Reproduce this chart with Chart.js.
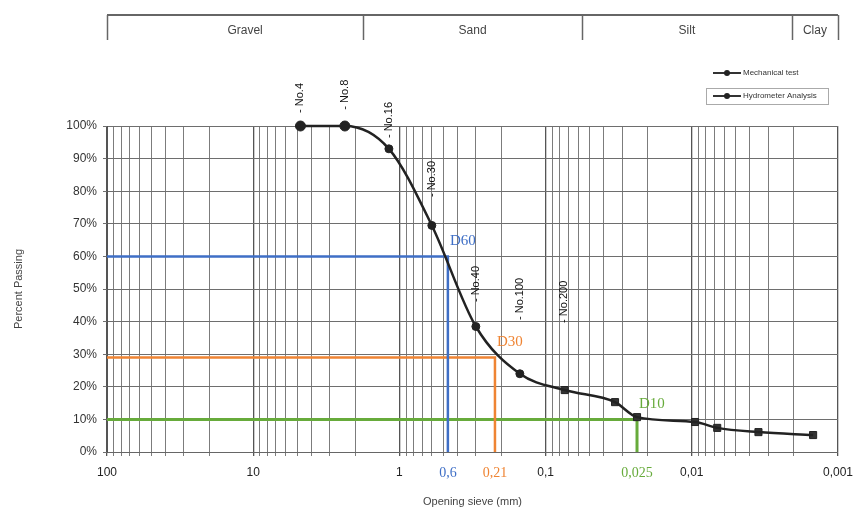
<!DOCTYPE html>
<html>
<head>
<meta charset="utf-8">
<title>Grain size distribution</title>
<script src="https://cdn.jsdelivr.net/npm/chart.js@4.4.0/dist/chart.umd.min.js"></script>
<style>
  html, body { margin: 0; padding: 0; background: #fff; }
</style>
</head>
<body>
<canvas id="gradChart" width="858" height="510"></canvas>
<script>
// sieve analysis (opening in mm -> percent passing)
var mechSize = [4.75, 2.36, 1.18, 0.6, 0.3, 0.15];
var mechPass = [100, 100, 93, 69.5, 38.5, 24];

// hydrometer analysis
var hydroSize = [0.074, 0.0335, 0.0237, 0.0095, 0.0067, 0.0035, 0.00148];
var hydroPass = [19, 15.3, 10.7, 9.2, 7.4, 6.1, 5.2];

// sieve numbers written above the curve
var sieveNames = ['- No.4', '- No.8', '- No.16', '- No.30', '- No.40', '- No.100', '- No.200'];
var sieveSize = [4.75, 2.36, 1.18, 0.6, 0.3, 0.15, 0.075];

// characteristic diameters
var dNames = ['D60', 'D30', 'D10'];
var dPercent = [60, 29, 10];
var dSize = [0.466, 0.222, 0.0237];
var dTickText = ['0,6', '0,21', '0,025'];

// soil classes along the top
var classNames = ['Gravel', 'Sand', 'Silt', 'Clay'];
var classEdges = [100, 1.77, 0.0564, 0.00207, 0.001];

// x axis labels (decades)
var decadeTicks = [100, 10, 1, 0.1, 0.01, 0.001];
var decadeLabels = ['100', '10', '1', '0,1', '0,01', '0,001'];

var dColors = ['#3f6fc6', '#ef8433', '#67ab3b'];
var sieveTagLevel = [104, 105, 96.3, 78.2, 46, 40.5, 39.6]; // where the rotated labels start (% units)

function pts(xs, ys) {
  var out = [];
  for (var i = 0; i < xs.length; i++) out.push({ x: xs[i], y: ys[i] });
  return out;
}

// small line+marker icon for the legend
function legendIcon() {
  var c = document.createElement('canvas');
  c.width = 30; c.height = 10;
  var g = c.getContext('2d');
  g.strokeStyle = '#333'; g.lineWidth = 2;
  g.beginPath(); g.moveTo(1, 5); g.lineTo(29, 5); g.stroke();
  g.fillStyle = '#222';
  g.beginPath(); g.arc(15, 5, 3, 0, Math.PI * 2); g.fill();
  return c;
}

var tickKind = [];   // 'dec' | 'minor' | 'd'
var tickText = [];
var tickD = [];

var extrasPlugin = {
  id: 'extras',
  afterDraw: function(chart) {
    var ctx = chart.ctx;
    var xs = chart.scales.x, ys = chart.scales.y;
    ctx.save();

    // soil classification band
    var bandTop = 15, bandBot = 40;
    ctx.strokeStyle = '#666';
    ctx.lineWidth = 2;
    ctx.beginPath();
    ctx.moveTo(xs.getPixelForValue(classEdges[0]), bandTop);
    ctx.lineTo(xs.getPixelForValue(classEdges[classEdges.length - 1]), bandTop);
    ctx.stroke();
    ctx.lineWidth = 1.5;
    for (var i = 0; i < classEdges.length; i++) {
      var ex = Math.round(xs.getPixelForValue(classEdges[i])) + 0.5;
      ctx.beginPath(); ctx.moveTo(ex, bandTop); ctx.lineTo(ex, bandBot); ctx.stroke();
    }
    ctx.fillStyle = '#444';
    ctx.font = '12px "Liberation Sans", Arial, sans-serif';
    ctx.textAlign = 'center';
    ctx.textBaseline = 'middle';
    for (i = 0; i < classNames.length; i++) {
      var a = xs.getPixelForValue(classEdges[i]), b = xs.getPixelForValue(classEdges[i + 1]);
      ctx.fillText(classNames[i], (a + b) / 2 + (i === 0 ? 10 : 0), 31);
    }

    // sieve numbers
    ctx.fillStyle = '#111';
    ctx.font = '11px "Liberation Sans", Arial, sans-serif';
    ctx.textAlign = 'left';
    for (i = 0; i < sieveNames.length; i++) {
      ctx.save();
      ctx.translate(xs.getPixelForValue(sieveSize[i]), ys.getPixelForValue(sieveTagLevel[i]));
      ctx.rotate(-Math.PI / 2);
      ctx.fillText(sieveNames[i], 0, 0);
      ctx.restore();
    }

    // D labels
    ctx.font = '15px "Liberation Serif", "Times New Roman", serif';
    ctx.textAlign = 'left';
    for (i = 0; i < dNames.length; i++) {
      ctx.fillStyle = dColors[i];
      ctx.fillText(dNames[i], xs.getPixelForValue(dSize[i]) + 2, ys.getPixelForValue(dPercent[i]) - 15);
    }

    // legend
    var lx = 712, ly = [73, 96];
    var names = [chart.data.datasets[1].label, chart.data.datasets[2].label];
    ctx.font = '8px "Liberation Sans", Arial, sans-serif';
    for (i = 0; i < 2; i++) {
      ctx.drawImage(legendIcon(), lx, ly[i] - 5);
      ctx.fillStyle = '#333';
      ctx.fillText(names[i], lx + 31, ly[i]);
    }
    ctx.strokeStyle = '#aaa';
    ctx.lineWidth = 1;
    ctx.strokeRect(706.5, 88.5, 122, 16);

    ctx.restore();
  }
};

var ctx = document.getElementById('gradChart').getContext('2d');
var gradChart = new Chart(ctx, {
  type: 'line',
  data: {
    datasets: [
      {
        label: 'curve',
        data: pts(mechSize.concat(hydroSize), mechPass.concat(hydroPass)),
        borderColor: '#222',
        borderWidth: 2.5,
        pointRadius: 0,
        cubicInterpolationMode: 'monotone',
        fill: false,
        clip: false
      },
      {
        label: 'Mechanical test',
        data: pts(mechSize, mechPass),
        showLine: false,
        pointStyle: 'circle',
        pointRadius: [5, 5, 4, 4, 4, 4],
        pointBackgroundColor: '#222',
        pointBorderColor: '#222',
        clip: false
      },
      {
        label: 'Hydrometer Analysis',
        data: pts(hydroSize, hydroPass),
        showLine: false,
        pointStyle: 'rect',
        pointRadius: 5,
        pointBackgroundColor: '#333',
        pointBorderColor: '#222',
        clip: false
      },
      {
        label: dNames[0],
        data: [{ x: 100, y: dPercent[0] }, { x: dSize[0], y: dPercent[0] }, { x: dSize[0], y: 0 }],
        borderColor: dColors[0], borderWidth: 2.5, pointRadius: 0, tension: 0
      },
      {
        label: dNames[1],
        data: [{ x: 100, y: dPercent[1] }, { x: dSize[1], y: dPercent[1] }, { x: dSize[1], y: 0 }],
        borderColor: dColors[1], borderWidth: 2.5, pointRadius: 0, tension: 0
      },
      {
        label: dNames[2],
        data: [{ x: 100, y: dPercent[2] }, { x: dSize[2], y: dPercent[2] }, { x: dSize[2], y: 0 }],
        borderColor: dColors[2], borderWidth: 3, pointRadius: 0, tension: 0
      }
    ]
  },
  options: {
    responsive: false,
    animation: false,
    layout: { padding: { top: 126, right: 20, left: 0, bottom: 0 } },
    plugins: {
      legend: { display: false },
      tooltip: { enabled: false }
    },
    scales: {
      x: {
        type: 'logarithmic',
        reverse: true,
        min: 0.001,
        max: 100,
        afterFit: function(s) { s.height = 58; },
        afterBuildTicks: function(s) {
          var list = [];
          tickKind = []; tickText = []; tickD = [];
          for (var e = -3; e <= 1; e++) {
            for (var m = 1; m <= 9; m++) {
              var v = m * Math.pow(10, e);
              list.push({ value: v });
              tickKind.push(m === 1 ? 'dec' : 'minor');
              tickText.push(m === 1 ? decadeLabels[decadeTicks.indexOf(Math.pow(10, e))] || '' : '');
              tickD.push(-1);
            }
          }
          list.push({ value: 100 }); tickKind.push('dec'); tickText.push(decadeLabels[0]); tickD.push(-1);
          for (var k = 0; k < dSize.length; k++) {
            list.push({ value: dSize[k] }); tickKind.push('d'); tickText.push(dTickText[k]); tickD.push(k);
          }
          s.ticks = list;
        },
        ticks: {
          autoSkip: false,
          maxRotation: 0,
          padding: 9,
          callback: function(v, i) { return tickText[i]; },
          color: function(c) { return tickD[c.index] >= 0 ? dColors[tickD[c.index]] : '#222'; },
          font: function(c) {
            return tickD[c.index] >= 0
              ? { family: '"Liberation Serif", "Times New Roman", serif', size: 14 }
              : { family: '"Liberation Sans", Arial, sans-serif', size: 12 };
          }
        },
        grid: {
          color: function(c) {
            var k = tickKind[c.index];
            if (k === 'd') return 'rgba(0,0,0,0)';
            return k === 'dec' ? '#555' : '#7c7c7c';
          },
          lineWidth: function(c) { return tickKind[c.index] === 'dec' ? 1.3 : 1; },
          tickLength: 4
        },
        border: { color: '#666' },
        title: {
          display: true,
          text: 'Opening sieve (mm)',
          color: '#444',
          font: { family: '"Liberation Sans", Arial, sans-serif', size: 11 },
          padding: { top: 0, bottom: 1 }
        }
      },
      y: {
        min: 0,
        max: 100,
        afterFit: function(s) { s.width = 107; },
        ticks: {
          stepSize: 10,
          padding: 6,
          color: '#333',
          font: { family: '"Liberation Sans", Arial, sans-serif', size: 12 },
          callback: function(v) { return v + '%'; }
        },
        grid: { color: '#6e6e6e', tickLength: 4 },
        border: { color: '#555' },
        title: {
          display: true,
          text: 'Percent Passing',
          color: '#444',
          font: { family: '"Liberation Sans", Arial, sans-serif', size: 11 },
          padding: { top: 12, bottom: 0 }
        }
      }
    }
  },
  plugins: [extrasPlugin]
});
</script>
</body>
</html>
